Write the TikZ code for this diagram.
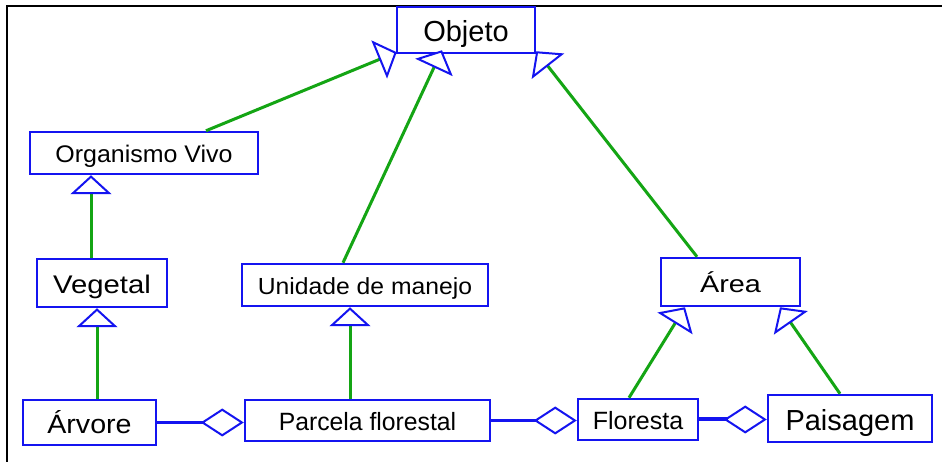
\documentclass[tikz,border=0pt]{standalone}
\usepackage{fontspec}
\setmainfont{Liberation Sans}
\usetikzlibrary{arrows.meta,calc}
\definecolor{umlblue}{RGB}{20,20,240}
\definecolor{umlgreen}{RGB}{20,165,20}
\tikzset{
  cls/.style={draw=umlblue, line width=2.5pt, fill=white, inner sep=0pt, rectangle, text depth=0pt},
  gen/.style={draw=umlgreen, line width=3pt,
    -{Triangle[length=19pt,width=41pt,line width=2pt,color=umlblue,fill=white]}},
  agg/.style={draw=umlblue, line width=3pt,
    -{Diamond[length=43pt,width=28pt,line width=2pt,color=umlblue,fill=white]}},
  frameline/.style={draw=black, line width=2.5pt}
}
\newcommand{\lbl}[3]{\fontsize{#1}{#1}\selectfont\scalebox{#2}[1]{#3}}
\begin{document}
\begin{tikzpicture}[x=1pt,y=-1pt]
\useasboundingbox (0,0) rectangle (946,462);
\fill[white] (0,0) rectangle (946,462);
\draw[frameline] (7,462) -- (7,6) -- (942,6);

\node[cls, minimum width=138pt, minimum height=46pt, text height=23.3pt] (obj) at (466,30) {\lbl{29}{1}{Objeto}};
\node[cls, minimum width=228pt, minimum height=42pt, text height=19.7pt] (org) at (144,153) {\lbl{24}{1.04}{Organismo Vivo}};
\node[cls, minimum width=130pt, minimum height=48pt, text height=20.8pt] (veg) at (102,283) {\lbl{25.5}{1.15}{Vegetal}};
\node[cls, minimum width=246pt, minimum height=42pt, text height=19.2pt] (uni) at (365,285) {\lbl{23.3}{1.06}{Unidade de manejo}};
\node[cls, minimum width=139pt, minimum height=48pt, text height=20.2pt] (area) at (730.5,282) {\lbl{24}{1.2}{Área}};
\node[cls, minimum width=133pt, minimum height=45pt, text height=21.5pt] (arv) at (89.5,422.5) {\lbl{26.5}{1.08}{Árvore}};
\node[cls, minimum width=245pt, minimum height=41pt, text height=20.4pt] (parc) at (367.5,420.5) {\lbl{25}{0.99}{Parcela florestal}};
\node[cls, minimum width=120pt, minimum height=41pt, text height=20.4pt] (flo) at (638,419.5) {\lbl{25}{1}{Floresta}};
\node[cls, minimum width=164pt, minimum height=47pt, text height=23.3pt] (pai) at (850,418.5) {\lbl{29}{1}{Paisagem}};

\draw[gen] ($(org.north)+(62,0)$) -- ($(obj.south west)+(1,-2)$);
\draw[gen] ($(uni.north)+(-22,0)$) -- ($(obj.south)+(-24,-4)$);
\draw[gen] ($(area.north)+(-33.5,0)$) -- ($(obj.south east)+(0,-3)$);
\draw[gen] ($(veg.north)+(-11,0)$) -- ($(org.south)+(-53,0)$);
\draw[gen] ($(arv.north)+(7.5,0)$) -- ($(veg.south)+(-5,0)$);
\draw[gen] ($(parc.north)+(-17.5,0)$) -- ($(uni.south)+(-15,0)$);
\draw[gen] ($(flo.north)+(-9,0)$) -- ($(area.south)+(-45.5,0)$);
\draw[gen] ($(pai.north)+(-10,0)$) -- ($(area.south)+(49.5,0)$);

\draw[agg] (arv.east) -- (arv.east -| parc.west);
\draw[agg] (parc.east) -- (parc.east -| flo.west);
\draw[agg, line width=4pt] (flo.east) -- (flo.east -| pai.west);
\end{tikzpicture}
\end{document}
